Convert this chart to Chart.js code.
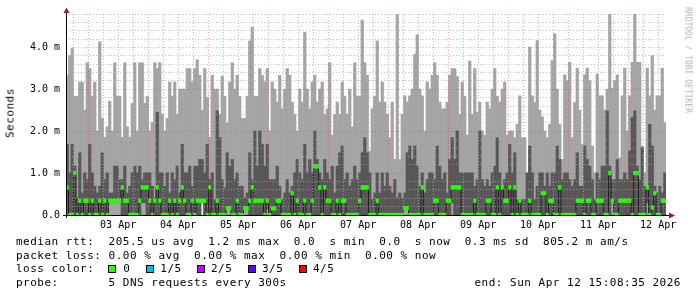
<!DOCTYPE html>
<html>
<head>
<meta charset="utf-8">
<script src="https://cdn.jsdelivr.net/npm/chart.js@4/dist/chart.umd.min.js"></script>
<style>
html, body { margin: 0; padding: 0; background: #fff; }
#wrap { position: relative; width: 697px; height: 297px; overflow: hidden; font-family: "DejaVu Sans Mono", monospace; }
#chart { position: absolute; left: 0; top: 0; }
.t { position: absolute; font-size: 11px; line-height: 11px; letter-spacing: 0.5px; white-space: pre; color: #000; }
.box { position: absolute; width: 6px; height: 6px; border: 1px solid #000; }
#ytitle { position: absolute; left: 10px; top: 113px; font-size: 11px; letter-spacing: 0.5px; white-space: pre; color: #000;
  transform: translate(-50%, -50%) rotate(-90deg); }
#credit { position: absolute; left: 688px; top: 60px; font-size: 8px; color: #b4b4b4; white-space: pre;
  transform: translate(-50%, -50%) rotate(90deg); }
</style>
</head>
<body>
<div id="wrap">
  <canvas id="chart" width="697" height="297"></canvas>
  <div id="ytitle">Seconds</div>
  <div id="credit">RRDTOOL / TOBI OETIKER</div>
  <div class="t" style="left:16px;top:236px">median rtt:  205.5 us avg  1.2 ms max  0.0  s min  0.0  s now  0.3 ms sd  805.2 m am/s</div>
  <div class="t" style="left:16px;top:249.7px">packet loss: 0.00 % avg  0.00 % max  0.00 % min  0.00 % now</div>
  <div class="t" style="left:16px;top:263.4px">loss color:</div>
  <div id="losslegend"></div>
  <div class="t" style="left:16px;top:277px">probe:       5 DNS requests every 300s</div>
  <div class="t" style="right:16px;top:277px">end: Sun Apr 12 15:08:35 2026</div>
</div>
<script>
// 240 hourly columns, values in ms (Apr 2 15:08 .. Apr 12 15:08)
const smokeMax = [
  3.33,3.8,3.97,2.83,2.83,3.17,3.17,2.5,3.63,3.49,2.83,3.17,2.0,4.13,2.3,1.85,2.1,2.71,2.0,3.63,
  2.83,2.83,1.85,3.63,2.1,1.85,2.66,3.63,2.0,3.63,3.63,2.66,2.83,2.0,2.2,3.63,3.49,3.63,2.4,2.0,
  2.3,3.17,2.83,3.17,2.4,3.0,3.0,3.0,3.49,3.49,3.17,3.49,3.7,3.33,2.5,3.49,2.8,1.85,3.33,3.0,
  3.0,2.4,3.31,2.83,2.2,3.17,3.63,3.0,3.33,2.83,2.3,2.3,2.83,4.15,4.48,2.83,2.83,3.49,3.33,3.17,
  3.49,2.0,3.17,3.0,2.69,3.33,2.53,3.0,3.49,3.33,2.69,2.4,2.0,3.0,2.69,4.36,3.0,2.53,3.17,3.33,
  2.69,3.0,3.17,2.4,2.53,3.63,1.9,2.4,2.69,2.4,3.17,2.83,2.4,3.0,2.1,3.63,2.83,2.83,4.65,3.63,
  3.33,1.52,2.53,2.83,4.15,2.69,3.17,2.69,2.4,1.84,2.69,1.32,4.78,1.32,2.4,2.84,2.69,2.84,3.0,3.83,
  4.3,3.0,2.84,2.0,3.17,3.0,3.33,3.63,3.33,2.69,2.53,2.53,2.69,3.33,3.49,3.49,3.3,2.4,3.17,2.83,
  1.9,3.67,2.4,3.49,2.45,2.69,2.0,1.9,2.69,2.53,3.0,3.49,2.83,2.69,3.0,3.17,1.9,2.0,2.0,1.84,
  2.16,2.84,1.84,1.84,1.0,4.0,2.84,2.68,4.16,2.5,2.34,2.0,1.84,2.16,3.68,4.32,3.0,2.16,1.32,3.34,
  3.2,3.64,1.84,2.68,3.5,2.5,1.68,3.34,3.5,3.2,1.64,1.0,3.36,2.84,2.84,2.5,3.0,4.8,3.02,3.2,
  3.34,1.36,2.84,3.5,2.0,2.84,3.64,4.8,3.64,3.64,1.64,1.0,3.5,2.84,3.8,2.5,2.84,2.84,3.5,2.2
];
const smokeHigh = [
  1.68,1.0,1.68,1.16,0.4,1.48,0.52,1.0,0.84,1.68,1.0,0.68,0.52,0.68,1.48,0.84,1.0,0.52,0.52,1.16,
  1.16,0.84,0.84,1.16,0.52,0.68,1.0,1.16,1.0,1.16,0.84,1.0,1.0,1.0,0.68,0.4,2.45,1.0,1.0,0.68,
  1.0,0.52,1.0,0.84,1.16,0.52,1.68,1.0,1.0,1.16,0.68,1.16,1.16,1.32,1.32,1.0,1.68,0.84,1.0,0.36,
  2.48,1.84,0.84,0.64,1.48,1.16,1.32,0.84,1.0,0.68,0.68,0.4,0.52,1.48,0.84,2.0,1.16,2.0,1.68,1.16,
  1.68,0.84,0.84,0.84,1.16,0.68,0.36,0.52,0.84,0.52,0.68,1.0,1.32,1.0,0.84,1.68,1.0,1.32,1.0,2.0,
  1.32,1.0,0.84,1.32,1.0,0.84,1.16,0.52,1.16,1.48,1.64,0.84,1.0,0.68,0.84,1.16,0.84,1.0,1.48,1.84,
  1.48,1.0,0.36,0.52,1.0,0.52,1.0,0.68,1.0,0.68,0.52,0.84,0.4,0.52,0.4,0.52,1.48,1.64,1.32,1.64,
  1.16,0.68,1.0,0.52,0.84,1.0,1.0,0.84,1.64,1.16,0.84,1.0,0.52,1.32,1.84,1.32,2.0,1.0,1.0,1.0,
  1.0,1.0,1.0,0.68,0.84,2.0,0.84,0.68,0.84,0.68,1.0,1.16,1.84,1.0,0.68,0.84,1.0,1.68,1.0,1.48,
  0.36,0.36,0.36,0.36,1.0,1.64,1.0,0.36,0.68,1.0,1.0,0.68,1.0,0.68,1.0,1.0,1.64,1.32,0.84,1.0,
  1.0,0.84,0.68,0.84,1.48,0.68,0.68,1.64,1.32,1.16,0.84,0.36,1.0,0.84,1.16,1.16,2.48,1.16,0.84,0.84,
  1.32,0.84,0.84,1.0,0.84,1.52,2.32,2.48,1.16,0.84,1.6,0.68,0.68,2.16,1.64,0.68,0.52,0.68,0.52,1.0
];
const smokeLow = [
  0,0,0,0,0,0,0,0,0,0,0,0,0,0,0,0,0,0.3,0.3,0.3,
  0.3,0.3,0,0,0,0,0,0,0,0,0.3,0.3,0,0,0,0,0,0,0,0,
  0,0,0,0,0,0,0,0,0,0,0,0,0,0,0.3,0,0,0,0,0,
  0,0,0,0,0.16,0.16,0,0,0,0,0,0.16,0.16,0,0,0,0,0,0,0,
  0.16,0,0,0,0,0,0,0,0,0,0,0,0,0,0,0,0,0,0,0,
  0,0,0,0,0,0,0,0,0,0,0,0,0,0,0,0,0,0,0,0,
  0,0,0,0,0,0,0,0,0,0,0,0,0,0,0,0.16,0.16,0,0,0,
  0,0,0,0,0,0,0,0,0,0,0,0,0,0,0.3,0,0,0,0,0,
  0,0,0,0,0,0,0,0,0,0,0,0,0,0,0,0,0,0,0,0,
  0,0,0,0,0,0,0,0,0,0,0,0,0,0,0,0,0,0,0,0,
  0,0,0,0,0,0,0,0,0,0,0,0,0,0,0,0,0,0,0.3,0,
  0,0,0,0,0,0,0,0,0,0,0,0,0.3,0,0,0,0,0,0,0
];
const smokeMin = [
  0,0,0,0,0,0,0,0,0,0,0,0,0,0,0,0,0,0,0,0,
  0,0,0,0,0,0,0,0,0,0,0,0,0,0,0,0,0,0,0,0,
  0,0,0,0,0,0,0,0,0,0,0,0,0,0,0.3,0,0,0,0,0,
  0,0,0,0,0,0,0,0,0,0,0,0,0,0,0,0,0,0,0,0,
  0,0,0,0,0,0,0,0,0,0,0,0,0,0,0,0,0,0,0,0,
  0,0,0,0,0,0,0,0,0,0,0,0,0,0,0,0,0,0,0,0,
  0,0,0,0,0,0,0,0,0,0,0,0,0,0,0,0,0,0,0,0,
  0,0,0,0,0,0,0,0,0,0,0,0,0,0,0,0,0,0,0,0,
  0,0,0,0,0,0,0,0,0,0,0,0,0,0,0,0,0,0,0,0,
  0,0,0,0,0,0,0,0,0,0,0,0,0,0,0,0,0,0,0,0,
  0,0,0,0,0,0,0,0,0,0,0,0,0,0,0,0,0,0,0,0,
  0,0,0,0,0,0,0,0,0,0,0,0,0,0,0,0,0,0,0,0
];
const median = [
  0.66,0,0,1.0,0,0.34,0,0.34,0.34,0,0.34,0,0,0.34,0,0.34,0,0.34,0.34,0.34,
  0.34,0.34,0.66,0.34,0.34,0,0,0,0,0.34,0.66,0.66,0.66,0.34,0,0.34,0.66,0.34,0,0,
  0,0.34,0,0.34,0,0.34,0.66,0.34,0,0,0.34,0,0.34,0.34,0.34,0.34,0,0.66,0,0,
  0.34,0,0,0,0.16,0.16,0,0,0.34,0,0,0.16,0.16,0.34,0.66,0.34,0.34,0.34,0.34,0,
  0.34,0,0.16,0.16,0.34,0.34,0,0,0,0,0.52,0,0.34,0,0,0.34,0,0,0.34,1.16,
  1.16,0.66,0,0.66,0.34,0.34,0,0,0.34,0,0.34,0.34,0,0,0,0,0,0.34,0.66,0.66,
  0.66,0,0,0,0.34,0,0,0,0,0,0,0,0,0,0,0.16,0.16,0,0,0,
  0,0,0.66,0,0,0,0,0.34,0.34,0,0,0,0.34,0.34,0.66,0.66,0.66,0.66,0,0,
  0,0,0,0.34,0,0,0,0,0.34,0.34,0,0,0.66,0,0.66,0.34,0.34,0.66,0,0.66,
  0,0.34,0,0,0,0.34,0,0,0,0,0.52,0.52,0,0.34,0.34,0,0,0.66,0,0,
  0,0,0,0,0.34,0.34,0.34,0,0.34,0.34,0,0,0.34,0.34,0.34,0,0,1.0,0.34,0,
  0,0.34,0.34,0.34,0.34,0.34,0,1.0,1.0,0,0,0,0.66,0,0.18,0.52,0,0,0.34,0.34
];
const dayLabels = ['03 Apr', '04 Apr', '05 Apr', '06 Apr', '07 Apr', '08 Apr', '09 Apr', '10 Apr', '11 Apr', '12 Apr'];
const lossNames = ['0', '1/5', '2/5', '3/5', '4/5'];
const lossColors = ['#26ff00', '#00b8ff', '#c800ff', '#5e00ff', '#ff0000'];

const firstMidnight = 8.857; // hours from graph start to Apr 3 00:00
const yMax = 4.8;
const band = 1.5 * yMax / 201; // green median band, +-1.5px

const FONT = '"DejaVu Sans Mono", monospace';
const GRID = 'rgba(170,170,170,0.75)';
const MGRID = 'rgba(255,0,0,0.35)';

// loss color legend
const ll = document.getElementById('losslegend');
const boxX = [108, 145.5, 196.5, 247.5, 298.5];
const nameX = [123.3, 160.3, 211, 262, 313];
lossNames.forEach((n, i) => {
  const b = document.createElement('div');
  b.className = 'box';
  b.style.left = boxX[i] + 'px';
  b.style.top = '265px';
  b.style.background = lossColors[i];
  ll.appendChild(b);
  const t = document.createElement('div');
  t.className = 't';
  t.style.left = nameX[i] + 'px';
  t.style.top = '263.4px';
  t.textContent = n;
  ll.appendChild(t);
});

const cols = (lo, hi) => lo.map((v, i) => ({x: i + 0.5, y: [v, hi[i]]}));

const isMidnight = v => Math.abs(((v - firstMidnight) % 24 + 24) % 24) < 1e-6;
const isNoon = v => Math.abs(((v - firstMidnight - 12) % 24 + 24) % 24) < 1e-6;

const axesPlugin = {
  id: 'axes',
  afterDraw(chart) {
    const {ctx, chartArea: a} = chart;
    ctx.save();
    ctx.strokeStyle = '#000';
    ctx.lineWidth = 1;
    ctx.beginPath();
    ctx.moveTo(a.left - 3, a.bottom + 0.5);
    ctx.lineTo(a.right + 4, a.bottom + 0.5);
    ctx.moveTo(a.left + 0.5, a.bottom + 3);
    ctx.lineTo(a.left + 0.5, a.top - 4);
    ctx.stroke();
    ctx.fillStyle = '#a02020';
    ctx.beginPath();
    ctx.moveTo(a.left + 0.5, a.top - 6.5);
    ctx.lineTo(a.left - 2.5, a.top - 1);
    ctx.lineTo(a.left + 3.5, a.top - 1);
    ctx.fill();
    ctx.beginPath();
    ctx.moveTo(a.right + 9, a.bottom + 0.5);
    ctx.lineTo(a.right + 3, a.bottom - 2.5);
    ctx.lineTo(a.right + 3, a.bottom + 3.5);
    ctx.fill();
    ctx.restore();
  }
};

const barOpts = {type: 'bar', grouped: false, barPercentage: 1, inflateAmount: 0.6, borderWidth: 0};

new Chart(document.getElementById('chart'), {
  type: 'bar',
  data: {
    datasets: [
      Object.assign({}, barOpts, {
        data: median.map((v, i) => ({x: i + 0.5, y: [v - band, v + band]})),
        backgroundColor: lossColors[0], order: 1
      }),
      {
        type: 'line', data: median.map((v, i) => ({x: i + 0.5, y: v})),
        stepped: 'middle', borderColor: '#202020', borderWidth: 1, pointRadius: 0, order: 2
      },
      Object.assign({}, barOpts, {data: cols(smokeLow, smokeHigh), backgroundColor: '#585858', order: 3}),
      Object.assign({}, barOpts, {data: cols(smokeMin, smokeMax), backgroundColor: '#a4a4a4', order: 4})
    ]
  },
  options: {
    responsive: false,
    animation: false,
    layout: {padding: {left: 0, top: 14, right: 31, bottom: 0}},
    plugins: {legend: {display: false}, tooltip: {enabled: false}},
    scales: {
      x: {
        type: 'linear', min: 0, max: 240, offset: false,
        grid: {
          offset: false, drawTicks: false, z: 1,
          color: c => isMidnight(c.tick.value) ? MGRID : GRID
        },
        border: {display: false, dash: [1, 2]},
        ticks: {
          autoSkip: false, maxRotation: 0, padding: 4, color: '#000',
          font: {family: FONT, size: 10},
          callback: v => isNoon(v) ? dayLabels[Math.round((v - firstMidnight - 12) / 24)] : ''
        },
        afterBuildTicks: s => {
          const t = [];
          for (let v = firstMidnight - 6; v < 240; v += 6) t.push({value: v});
          s.ticks = t;
        },
        afterFit: s => { s.height = 82; s.paddingLeft = 0; s.paddingRight = 0; }
      },
      y: {
        min: 0, max: yMax,
        grid: {
          drawTicks: false, z: 1,
          color: c => {
            const v = c.tick.value;
            return (v > 0 && Math.abs(v - Math.round(v)) < 1e-6) ? MGRID : GRID;
          }
        },
        border: {display: false, dash: [1, 2]},
        ticks: {
          autoSkip: false, padding: 6, color: '#000',
          font: {family: FONT, size: 10},
          callback: v => {
            if (Math.abs(v - Math.round(v)) > 1e-6) return '';
            return v === 0 ? '0.0' : Math.round(v).toFixed(1) + ' m';
          }
        },
        afterBuildTicks: s => {
          const t = [];
          for (let k = 0; k <= 24; k++) t.push({value: +(k * 0.2).toFixed(1)});
          s.ticks = t;
        },
        afterFit: s => { s.width = 66; s.paddingTop = 0; s.paddingBottom = 0; }
      }
    }
  },
  plugins: [axesPlugin]
});
</script>
</body>
</html>
